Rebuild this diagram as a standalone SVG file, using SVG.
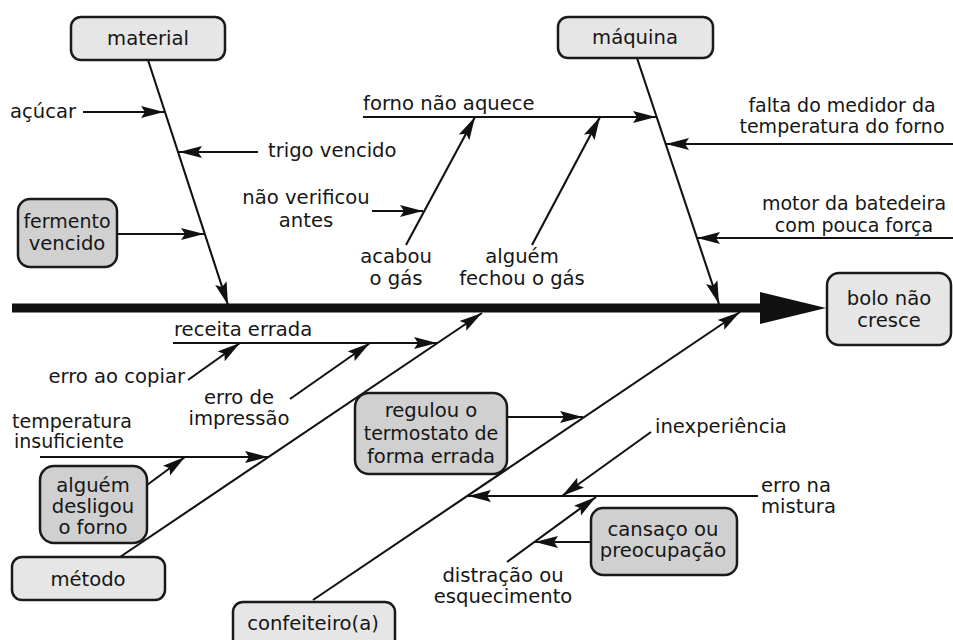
<svg xmlns="http://www.w3.org/2000/svg" width="953" height="640" viewBox="0 0 953 640">
  <defs>
    <style>
      .box { stroke: #1a1a1a; stroke-width: 2.5; }
      .cat { fill: #e6e6e6; }
      .cause { fill: #d0d0d0; }
      .lbl { font-family: "DejaVu Sans", "Liberation Sans", sans-serif; font-size: 19.6px; fill: #161616; }
      .sm { font-size: 19px; }
      .mid { text-anchor: middle; }
      .end { text-anchor: end; }
      .ln { stroke: #111; stroke-width: 2.1; fill: none; }
      .arr { marker-end: url(#head); }
    </style>
    <marker id="head" markerUnits="userSpaceOnUse" markerWidth="26" markerHeight="13" refX="23" refY="6.5" orient="auto">
      <path d="M0,0.5 L23,6.5 L0,12.5 L4,6.5 z" fill="#111"/>
    </marker>
  </defs>
  <rect width="953" height="640" fill="#ffffff"/>

  <!-- spine and main arrowhead -->
  <g id="spine">
    <line x1="12" y1="308" x2="764" y2="308" stroke="#111" stroke-width="9"/>
    <polygon points="760,292 826,308 760,324" fill="#111"/>
  </g>

  <!-- connectors -->
  <g id="connectors">
    <!-- category branches -->
    <line class="ln arr" x1="148" y1="60" x2="228" y2="305"/>
    <line class="ln arr" x1="637" y1="58" x2="719" y2="304"/>
    <line class="ln arr" x1="120" y1="557" x2="482" y2="313"/>
    <line class="ln arr" x1="313" y1="600" x2="740" y2="312"/>

    <!-- material -->
    <line class="ln arr" x1="83" y1="112" x2="164" y2="112"/>
    <line class="ln arr" x1="258" y1="152" x2="179" y2="152"/>
    <line class="ln arr" x1="117" y1="234" x2="204" y2="234"/>

    <!-- máquina -->
    <line class="ln arr" x1="363" y1="117" x2="656" y2="117"/>
    <line class="ln arr" x1="406" y1="245" x2="475" y2="117"/>
    <line class="ln arr" x1="372" y1="211" x2="423" y2="211"/>
    <line class="ln arr" x1="532" y1="245" x2="600" y2="117"/>
    <line class="ln arr" x1="953" y1="144" x2="666" y2="144"/>
    <line class="ln arr" x1="953" y1="238" x2="697" y2="238"/>

    <!-- método -->
    <line class="ln arr" x1="173" y1="343" x2="437" y2="343"/>
    <line class="ln arr" x1="188" y1="380" x2="240" y2="343"/>
    <line class="ln arr" x1="290" y1="399" x2="370" y2="343"/>
    <line class="ln arr" x1="40" y1="457" x2="268" y2="457"/>
    <line class="ln arr" x1="147" y1="485" x2="185" y2="457"/>

    <!-- confeiteiro(a) -->
    <line class="ln arr" x1="507" y1="417" x2="583" y2="417"/>
    <line class="ln arr" x1="758" y1="496" x2="468" y2="496"/>
    <line class="ln arr" x1="651" y1="432" x2="562" y2="496"/>
    <line class="ln arr" x1="507" y1="562" x2="596" y2="497"/>
    <line class="ln arr" x1="591" y1="542" x2="535" y2="542"/>
  </g>

  <!-- category nodes -->
  <g id="material">
    <rect class="box cat" x="71" y="17" width="154" height="43" rx="10"/>
    <text class="lbl mid" x="148" y="45">material</text>
  </g>
  <g id="maquina">
    <rect class="box cat" x="558" y="17" width="155" height="41" rx="10"/>
    <text class="lbl mid" x="635" y="44">máquina</text>
  </g>
  <g id="metodo">
    <rect class="box cat" x="12" y="557" width="153" height="43" rx="10"/>
    <text class="lbl mid" x="88" y="586">método</text>
  </g>
  <g id="confeiteiro">
    <rect class="box cat" x="233" y="602" width="162" height="50" rx="10"/>
    <text class="lbl mid" x="313" y="630">confeiteiro(a)</text>
  </g>
  <g id="efeito">
    <rect class="box cat" x="827" y="273" width="124" height="72" rx="12"/>
    <text class="lbl mid" x="889" y="305">bolo não</text>
    <text class="lbl mid" x="889" y="327">cresce</text>
  </g>

  <!-- cause nodes -->
  <g id="fermento">
    <rect class="box cause" x="18" y="199" width="99" height="68" rx="12"/>
    <text class="lbl mid sm" x="67" y="228">fermento</text>
    <text class="lbl mid" x="67" y="250">vencido</text>
  </g>
  <g id="desligou">
    <rect class="box cause" x="40" y="466" width="107" height="77" rx="14"/>
    <text class="lbl mid" x="93" y="492">alguém</text>
    <text class="lbl mid" x="93" y="513">desligou</text>
    <text class="lbl mid" x="93" y="534">o forno</text>
  </g>
  <g id="termostato">
    <rect class="box cause" x="355" y="393" width="152" height="81" rx="14"/>
    <text class="lbl mid" x="431" y="417">regulou o</text>
    <text class="lbl mid sm" x="431" y="440">termostato de</text>
    <text class="lbl mid" x="431" y="463">forma errada</text>
  </g>
  <g id="cansaco">
    <rect class="box cause" x="591" y="508" width="146" height="67" rx="12"/>
    <text class="lbl mid" x="663" y="536">cansaço ou</text>
    <text class="lbl mid" x="663" y="557">preocupação</text>
  </g>

  <!-- free labels -->
  <g id="labels">
    <text class="lbl" x="10" y="118">açúcar</text>
    <text class="lbl" x="268" y="157">trigo vencido</text>
    <text class="lbl mid" x="306" y="204">não verificou</text>
    <text class="lbl mid" x="306" y="227">antes</text>
    <text class="lbl" x="363" y="110">forno não aquece</text>
    <text class="lbl mid" x="396" y="263">acabou</text>
    <text class="lbl mid" x="396" y="285">o gás</text>
    <text class="lbl mid" x="522" y="263">alguém</text>
    <text class="lbl mid" x="522" y="285">fechou o gás</text>
    <text class="lbl mid sm" x="842" y="112">falta do medidor da</text>
    <text class="lbl mid sm" x="842" y="133">temperatura do forno</text>
    <text class="lbl mid sm" x="854" y="210">motor da batedeira</text>
    <text class="lbl mid sm" x="854" y="232">com pouca força</text>
    <text class="lbl" x="174" y="336">receita errada</text>
    <text class="lbl end" x="185" y="383">erro ao copiar</text>
    <text class="lbl mid" x="239" y="404">erro de</text>
    <text class="lbl mid" x="239" y="425">impressão</text>
    <text class="lbl sm" x="12" y="428">temperatura</text>
    <text class="lbl sm" x="14" y="448">insuficiente</text>
    <text class="lbl" x="655" y="433">inexperiência</text>
    <text class="lbl" x="761" y="492">erro na</text>
    <text class="lbl" x="761" y="513">mistura</text>
    <text class="lbl mid" x="503" y="582">distração ou</text>
    <text class="lbl mid" x="503" y="603">esquecimento</text>
  </g>
</svg>
